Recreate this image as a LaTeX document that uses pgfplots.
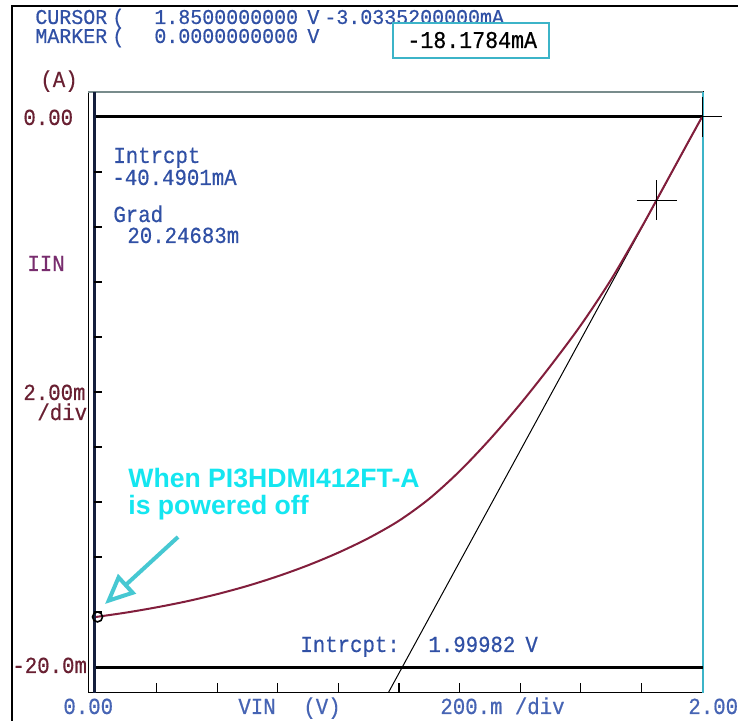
\documentclass[border=0pt]{standalone}
\usepackage{fontspec}
\usepackage{pgfplots}
\pgfplotsset{compat=1.18}
\usetikzlibrary{arrows.meta}
\setmainfont{Liberation Sans}
\newfontfamily\plotfont[FakeStretch=0.9,FakeBold=0.5]{Liberation Mono}
\newfontfamily\topfont[FakeStretch=0.95,FakeBold=0.5]{Liberation Mono}
\definecolor{txtblue}{RGB}{48,80,165}
\definecolor{lblblue}{RGB}{70,100,180}
\definecolor{maroon}{RGB}{105,32,50}
\definecolor{iinpurple}{RGB}{120,45,110}
\definecolor{curvecol}{RGB}{130,30,60}
\definecolor{boxteal}{RGB}{60,180,200}
\definecolor{annocyan}{RGB}{20,230,240}
\definecolor{arrowcyan}{RGB}{70,200,210}
\definecolor{leftline}{RGB}{20,30,60}
\definecolor{topline}{RGB}{120,140,140}
\begin{document}
\begin{tikzpicture}
\useasboundingbox (0,0) rectangle (369pt,360.5pt);
\fill[white] (0,0) rectangle (369pt,360.5pt);
\begin{axis}[
  at={(44pt,14pt)}, anchor=south west, scale only axis,
  width=307.5pt, height=300.5pt,
  xmin=-0.0264, xmax=2.0033, ymin=-20.945, ymax=0.909,
  clip=false,
  axis line style={black, line width=0.5pt},
  xtick={0.2,0.4,0.6,0.8,1.0,1.2,1.4,1.6,1.8}, xticklabels={},
  xtick pos=left, tick align=inside, major tick length=5pt,
  tick style={black, line width=0.6pt},
  ytick=\empty,
]
% frame details
\draw[topline, line width=0.6pt] (rel axis cs:0,1) -- (rel axis cs:1,1);
\draw[boxteal, line width=0.7pt] (rel axis cs:1,0) -- (rel axis cs:1,1);
% thick reference lines
\draw[line width=1.5pt] (axis cs:-0.0066,0) -- (axis cs:2.0033,0);
\draw[line width=1.5pt] (axis cs:-0.0066,-20) -- (axis cs:2.0033,-20);
\draw[line width=1.5pt, leftline] (axis cs:-0.0066,-20.945) -- (axis cs:-0.0066,0.909);
\pgfplotsinvokeforeach{-18,-16,-14,-12,-10,-8,-6,-4,-2}{
  \draw[line width=0.7pt] (axis cs:-0.0066,#1) -- (axis cs:0.02,#1);
}
% tangent line
\addplot[black, line width=0.5pt] coordinates {(0.965,-20.93) (2.0,-0.0035)};
% measured curve
\addplot[curvecol, line width=1pt, smooth] coordinates {
(0,-18.18)(0.1,-18.02)(0.2,-17.83)(0.3,-17.61)(0.4,-17.35)(0.5,-17.05)
(0.6,-16.70)(0.7,-16.30)(0.8,-15.84)(0.9,-15.31)(1.0,-14.68)(1.1,-13.88)
(1.2,-12.88)(1.3,-11.72)(1.4,-10.44)(1.5,-9.05)(1.6,-7.57)(1.7,-5.91)
(1.8,-4.02)(1.85,-3.02)(1.9,-2.01)(1.95,-1.00)(2.0,0)};
% cursor cross
\addplot[only marks, mark=+, mark size=10pt, black, mark options={line width=0.8pt}] coordinates {(1.85,-3.0335)};
% corner cross
\addplot[only marks, mark=+, mark size=10pt, black, mark options={line width=0.5pt}] coordinates {(2.0,0)};
% marker
\addplot[only marks, mark=o, mark size=2.5pt, black, mark options={line width=0.8pt}] coordinates {(0.005,-18.1784)};
\end{axis}
\begin{scope}[x=0.5pt, y=-0.5pt, shift={(0pt,360.5pt)}]
\draw[line width=1pt] (12,721) -- (12,6) -- (738,6);
% header text
\begin{scope}[every node/.style={inner sep=0pt, anchor=base west}]
\node[txtblue, font=\topfont\fontsize{10.5}{12}\selectfont] at (35,24) {CURSOR};
\node[txtblue, font=\topfont\fontsize{10.5}{12}\selectfont] at (112,24) {(};
\node[txtblue, font=\topfont\fontsize{10.5}{12}\selectfont] at (154,24) {1.8500000000};
\node[txtblue, font=\topfont\fontsize{10.5}{12}\selectfont] at (307,24) {V};
\node[txtblue, font=\topfont\fontsize{10.5}{12}\selectfont] at (324,24) {-3.0335200000mA};
\node[txtblue, font=\topfont\fontsize{10.5}{12}\selectfont] at (35,43) {MARKER};
\node[txtblue, font=\topfont\fontsize{10.5}{12}\selectfont] at (112,43) {(};
\node[txtblue, font=\topfont\fontsize{10.5}{12}\selectfont] at (154,43) {0.0000000000};
\node[txtblue, font=\topfont\fontsize{10.5}{12}\selectfont] at (307,43) {V};
\end{scope}
\draw[boxteal, line width=1pt, fill=white] (393,23) rectangle (549,58);
\begin{scope}[every node/.style={inner sep=0pt, anchor=base west}]
\node[black, font=\plotfont\fontsize{12}{12}\selectfont] at (407,48) {-18.1784mA};
% left labels
\node[maroon, font=\plotfont\fontsize{11.5}{12}\selectfont] at (40,87) {(A)};
\node[maroon, font=\plotfont\fontsize{11.5}{12}\selectfont] at (23,125) {0.00};
\node[iinpurple, font=\plotfont\fontsize{11.5}{12}\selectfont] at (27,271) {IIN};
\node[maroon, font=\plotfont\fontsize{11.5}{12}\selectfont] at (23,400) {2.00m};
\node[maroon, font=\plotfont\fontsize{11.5}{12}\selectfont] at (37,420) {/div};
\node[maroon, font=\plotfont\fontsize{11.5}{12}\selectfont] at (12,673) {-20.0m};
% in-plot labels
\node[txtblue, font=\plotfont\fontsize{11.5}{12}\selectfont] at (113,163) {Intrcpt};
\node[txtblue, font=\plotfont\fontsize{11.5}{12}\selectfont] at (112,185) {-40.4901mA};
\node[txtblue, font=\plotfont\fontsize{11.5}{12}\selectfont] at (113,222) {Grad};
\node[txtblue, font=\plotfont\fontsize{11.5}{12}\selectfont] at (127,243) {20.24683m};
\node[txtblue, font=\plotfont\fontsize{11.5}{12}\selectfont] at (300,652) {Intrcpt:};
\node[txtblue, font=\plotfont\fontsize{11.5}{12}\selectfont] at (428,652) {1.99982};
\node[txtblue, font=\plotfont\fontsize{11.5}{12}\selectfont] at (525,652) {V};
% bottom labels
\node[lblblue, font=\plotfont\fontsize{11.5}{12}\selectfont] at (63,714) {0.00};
\node[lblblue, font=\plotfont\fontsize{11.5}{12}\selectfont] at (238,714) {VIN};
\node[lblblue, font=\plotfont\fontsize{11.5}{12}\selectfont] at (303,714) {(V)};
\node[lblblue, font=\plotfont\fontsize{11.5}{12}\selectfont] at (440,714) {200.m /div};
\node[lblblue, font=\plotfont\fontsize{11.5}{12}\selectfont] at (688,714) {2.00};
% annotation
\node[annocyan, font=\bfseries\fontsize{13.3}{15}\selectfont] at (128,488) {When PI3HDMI412FT-A};
\node[annocyan, font=\bfseries\fontsize{13.3}{15}\selectfont] at (128,515) {is powered off};
\end{scope}
\draw[arrowcyan, line width=2pt, -{Triangle[open, length=15pt, width=13pt, line width=2pt]}] (178,537) -- (105,604);
\end{scope}
\end{tikzpicture}
\end{document}
